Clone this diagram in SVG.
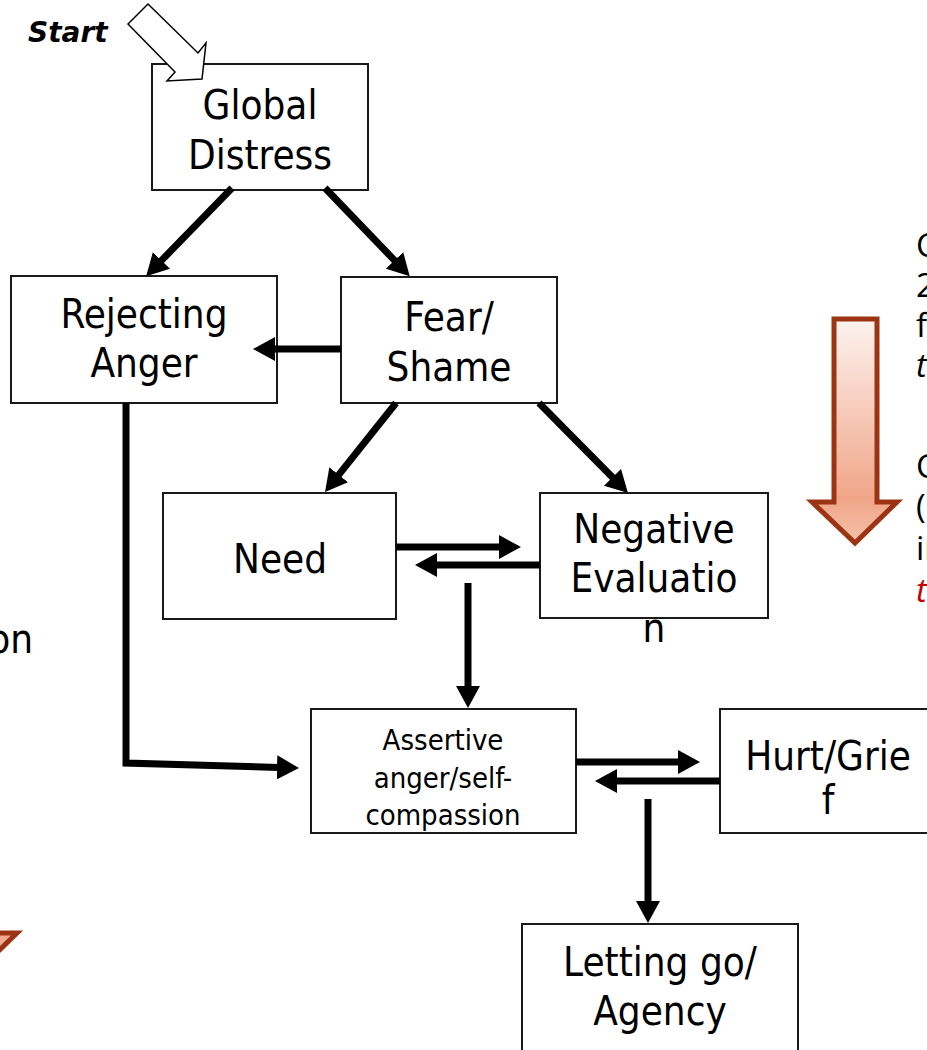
<svg xmlns="http://www.w3.org/2000/svg" width="927" height="1050" viewBox="0 0 927 1050">
  <style>
    .box { fill: #ffffff; stroke: #1a1a1a; stroke-width: 2; }
    .lbl { font-family: 'DejaVu Sans Condensed', 'DejaVu Sans', sans-serif; font-stretch: condensed; font-size: 40px; fill: #000; text-anchor: middle; }
    .small { font-size: 29px; }
    .conn { fill: none; stroke: #000; stroke-width: 7; stroke-linejoin: miter; }
    .side { font-family: 'Open Sans', 'Liberation Sans', sans-serif; font-size: 33px; fill: #000; }
    .red { fill: #c00000; font-style: italic; }
    .big { fill: url(#orange); stroke: #9b3413; stroke-width: 5; stroke-linejoin: miter; }
  </style>
  <defs>
    <marker id="ah" markerUnits="userSpaceOnUse" markerWidth="22" markerHeight="24" refX="2" refY="12" orient="auto" viewBox="0 0 22 24">
      <path d="M0,0 L22,12 L0,24 z" fill="#000"/>
    </marker>
    <linearGradient id="orange" x1="0" y1="0" x2="0" y2="1">
      <stop offset="0" stop-color="#fdf3ef"/>
      <stop offset="0.8" stop-color="#f0a588"/>
      <stop offset="1" stop-color="#f5c2ab"/>
    </linearGradient>
  </defs>

  <!-- side decorations -->
  <g id="orange-arrow">
    <polygon class="big" points="834,319 877,319 877,502 897,502 855,543 812,502 834,502"/>
  </g>
  <g id="orange-arrow-left">
    <polygon class="big" points="-47,748 -4,748 -4,933 17,933 -25,974 -67,933 -47,933"/>
  </g>
  <g id="side-text">
    <text class="side" x="916" y="257">C</text>
    <text class="side" x="916" y="297">2</text>
    <text class="side" x="916" y="337">f</text>
    <text class="side" x="916" y="377" style="font-style:italic">t</text>
    <text class="side" x="916" y="478">C</text>
    <text class="side" x="916" y="518">(</text>
    <text class="side" x="916" y="560">in</text>
    <text class="side red" x="916" y="602">t</text>
    <text class="lbl" x="33" y="653" style="text-anchor:end">on</text>
  </g>

  <!-- nodes -->
  <g id="global-distress">
    <rect class="box" x="152" y="64" width="216" height="126"/>
    <text class="lbl" x="260" y="119">Global</text>
    <text class="lbl" x="260" y="169">Distress</text>
  </g>
  <g id="rejecting-anger">
    <rect class="box" x="11" y="276" width="266" height="127"/>
    <text class="lbl" x="144" y="328">Rejecting</text>
    <text class="lbl" x="144" y="377">Anger</text>
  </g>
  <g id="fear-shame">
    <rect class="box" x="341" y="277" width="216" height="126"/>
    <text class="lbl" x="449" y="331">Fear/</text>
    <text class="lbl" x="449" y="381">Shame</text>
  </g>
  <g id="need">
    <rect class="box" x="163" y="493" width="233" height="126"/>
    <text class="lbl" x="280" y="573">Need</text>
  </g>
  <g id="negative-evaluation">
    <rect class="box" x="540" y="493" width="228" height="125"/>
    <text class="lbl" x="654" y="543">Negative</text>
    <text class="lbl" x="654" y="592">Evaluatio</text>
    <text class="lbl" x="654" y="642">n</text>
  </g>
  <g id="assertive">
    <rect class="box" x="311" y="709" width="265" height="124"/>
    <text class="lbl small" x="443" y="750">Assertive</text>
    <text class="lbl small" x="443" y="788">anger/self-</text>
    <text class="lbl small" x="443" y="825">compassion</text>
  </g>
  <g id="hurt-grief">
    <rect class="box" x="720" y="709" width="216" height="124"/>
    <text class="lbl" x="828" y="770">Hurt/Grie</text>
    <text class="lbl" x="828" y="814">f</text>
  </g>
  <g id="letting-go">
    <rect class="box" x="522" y="924" width="276" height="140"/>
    <text class="lbl" x="660" y="976">Letting go/</text>
    <text class="lbl" x="660" y="1025">Agency</text>
  </g>

  <!-- connectors -->
  <g id="connectors">
    <line class="conn" x1="232" y1="188" x2="160.1" y2="261.9" marker-end="url(#ah)"/>
    <line class="conn" x1="325" y1="188" x2="395.9" y2="261.8" marker-end="url(#ah)"/>
    <line class="conn" x1="341" y1="349" x2="273" y2="349" marker-end="url(#ah)"/>
    <line class="conn" x1="396" y1="403" x2="337.5" y2="476.4" marker-end="url(#ah)"/>
    <line class="conn" x1="539" y1="403" x2="613.9" y2="478.8" marker-end="url(#ah)"/>
    <line class="conn" x1="396" y1="547" x2="501" y2="547" marker-end="url(#ah)"/>
    <line class="conn" x1="540" y1="565" x2="435" y2="565" marker-end="url(#ah)"/>
    <line class="conn" x1="468" y1="583" x2="468" y2="688" marker-end="url(#ah)"/>
    <polyline class="conn" points="126,403 126,763 279,767.4" marker-end="url(#ah)"/>
    <line class="conn" x1="576" y1="762" x2="680" y2="762" marker-end="url(#ah)"/>
    <line class="conn" x1="720" y1="781" x2="615" y2="781" marker-end="url(#ah)"/>
    <line class="conn" x1="648" y1="799" x2="648" y2="903" marker-end="url(#ah)"/>
  </g>

  <!-- Start label and block arrow -->
  <g id="start">
    <text x="28" y="42" style="font-family:'DejaVu Sans',sans-serif;font-size:28px;font-weight:bold;font-style:italic;">Start</text>
    <polygon points="128,24 148,4 198,53 206,43 202,79 167,81 175,72" fill="#fff" stroke="#000" stroke-width="1.5"/>
  </g>
</svg>
